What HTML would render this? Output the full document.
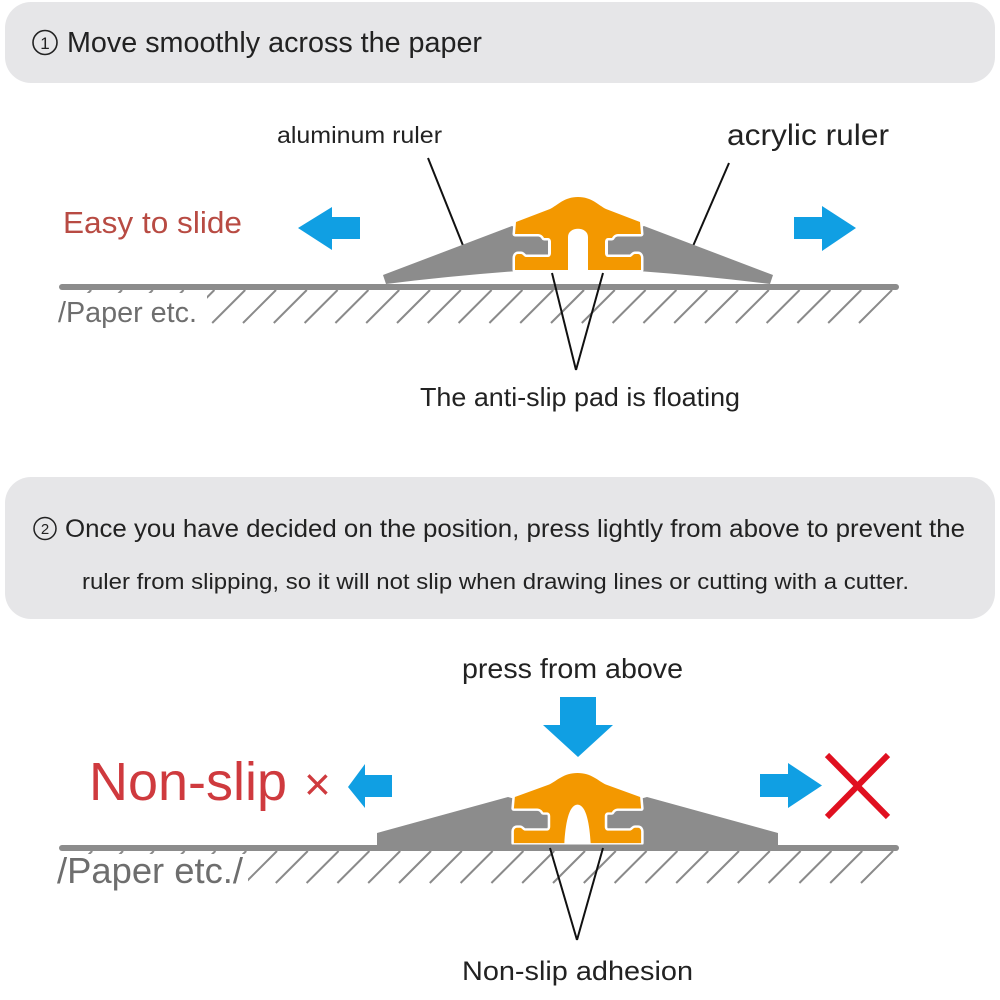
<!DOCTYPE html>
<html>
<head>
<meta charset="utf-8">
<style>
  html,body{margin:0;padding:0;background:#fff;}
  svg{display:block;}
  text{font-family:"Liberation Sans","DejaVu Sans",sans-serif;}
</style>
</head>
<body>
<svg width="1000" height="1000" viewBox="0 0 1000 1000" xmlns="http://www.w3.org/2000/svg">
  <defs>
    <clipPath id="hc"><rect x="60" y="0" width="840" height="1000"/></clipPath>
    <path id="pad" d="M0,0 C14,0 20,8 28,12 L62,25 L63,37 L40,37 C37,37 35,39 34,41 L30,41 C28,41 27,43 27,45 L27,56 C27,58 28,60 30,60 L52,60 C54,60 55,57 57,57 L60,57 C62,57 63,59 63,61 L63,73 L10,73 L10,40 C10,29 -10,29 -10,40 L-10,73 L-63,73 L-63,61 C-63,59 -62,57 -60,57 L-57,57 C-55,57 -54,60 -52,60 L-30,60 C-28,60 -27,58 -27,56 L-27,45 C-27,43 -28,41 -30,41 L-34,41 C-35,39 -37,37 -40,37 L-63,37 L-62,25 L-28,12 C-20,8 -14,0 0,0 Z"/>
    <path id="pad2" d="M0,0 C14,0 20,8 28,12 L62,25 L63,37 L40,37 C37,37 35,39 34,41 L30,41 C28,41 27,43 27,45 L27,56 C27,58 28,60 30,60 L52,60 C54,60 55,57 57,57 L60,57 C62,57 63,59 63,61 L63,73 L13,73 C12,55 9,33 0,33 C-9,33 -12,55 -13,73 L-63,73 L-63,61 C-63,59 -62,57 -60,57 L-57,57 C-55,57 -54,60 -52,60 L-30,60 C-28,60 -27,58 -27,56 L-27,45 C-27,43 -28,41 -30,41 L-34,41 C-35,39 -37,37 -40,37 L-63,37 L-62,25 L-28,12 C-20,8 -14,0 0,0 Z"/>
  </defs>

  <!-- Header 1 -->
  <rect x="5" y="2" width="990" height="81" rx="26" ry="26" fill="#e6e6e8"/>
  <circle cx="45" cy="42.5" r="12" fill="none" stroke="#222" stroke-width="1.6"/>
  <text x="45" y="49" font-size="17" fill="#222" text-anchor="middle">1</text>
  <text x="67" y="52" font-size="28.5" fill="#222" textLength="415" lengthAdjust="spacingAndGlyphs">Move smoothly across the paper</text>

  <!-- Section 1 labels -->
  <text x="277" y="143" font-size="23" fill="#222" textLength="165" lengthAdjust="spacingAndGlyphs">aluminum ruler</text>
  <text x="727" y="145" font-size="30" fill="#222" textLength="162" lengthAdjust="spacingAndGlyphs">acrylic ruler</text>
  <line x1="428" y1="158" x2="466" y2="253" stroke="#111" stroke-width="2"/>
  <line x1="729" y1="163" x2="690" y2="253" stroke="#111" stroke-width="2"/>

  <text x="63" y="233" font-size="31" fill="#b84b43" textLength="179" lengthAdjust="spacingAndGlyphs">Easy to slide</text>

  <!-- arrows sec 1 -->
  <polygon points="298,228 332,207 332,217 360,217 360,239 332,239 332,250" fill="#109fe3"/>
  <polygon points="794,217 822,217 822,206 856,228 822,251 822,239 794,239" fill="#109fe3"/>

  <!-- hatches sec 1 -->
  <g clip-path="url(#hc)" stroke="#8a8a8a" stroke-width="2">
    <line x1="892" y1="290" x2="859" y2="323"/>
    <line x1="861.2" y1="290" x2="828.2" y2="323"/>
    <line x1="830.4" y1="290" x2="797.4" y2="323"/>
    <line x1="799.6" y1="290" x2="766.6" y2="323"/>
    <line x1="768.8" y1="290" x2="735.8" y2="323"/>
    <line x1="738" y1="290" x2="705" y2="323"/>
    <line x1="707.2" y1="290" x2="674.2" y2="323"/>
    <line x1="676.4" y1="290" x2="643.4" y2="323"/>
    <line x1="645.6" y1="290" x2="612.6" y2="323"/>
    <line x1="614.8" y1="290" x2="581.8" y2="323"/>
    <line x1="584" y1="290" x2="551" y2="323"/>
    <line x1="553.2" y1="290" x2="520.2" y2="323"/>
    <line x1="522.4" y1="290" x2="489.4" y2="323"/>
    <line x1="491.6" y1="290" x2="458.6" y2="323"/>
    <line x1="460.8" y1="290" x2="427.8" y2="323"/>
    <line x1="430" y1="290" x2="397" y2="323"/>
    <line x1="399.2" y1="290" x2="366.2" y2="323"/>
    <line x1="368.4" y1="290" x2="335.4" y2="323"/>
    <line x1="337.6" y1="290" x2="304.6" y2="323"/>
    <line x1="306.8" y1="290" x2="273.8" y2="323"/>
    <line x1="276" y1="290" x2="243" y2="323"/>
    <line x1="245.2" y1="290" x2="212.2" y2="323"/>
    <line x1="214.4" y1="290" x2="181.4" y2="323"/>
    <line x1="183.6" y1="290" x2="150.6" y2="323"/>
    <line x1="152.8" y1="290" x2="119.8" y2="323"/>
    <line x1="122" y1="290" x2="89" y2="323"/>
    <line x1="91.2" y1="290" x2="58.2" y2="323"/>
  </g>
  <rect x="55" y="293" width="152" height="38" fill="#fff"/>
  <text x="58" y="322" font-size="29" fill="#6e6e6e" textLength="139" lengthAdjust="spacingAndGlyphs">/Paper etc.</text>

  <!-- ground 1 -->
  <line x1="62" y1="287" x2="896" y2="287" stroke="#8c8c8c" stroke-width="6" stroke-linecap="round"/>

  <!-- rulers sec 1 -->
  <path d="M383,275 L512,226 L548,240 L548,258 L518,271 Q450,276 386,284 Z" fill="#8c8c8c"/>
  <path d="M773,275 L644,226 L608,240 L608,258 L638,271 Q706,276 770,284 Z" fill="#8c8c8c"/>
  <use href="#pad" transform="translate(578,197)" fill="#f39800" stroke="#fff" stroke-width="5" paint-order="stroke" stroke-linejoin="round"/>

  <line x1="552" y1="273" x2="576" y2="370" stroke="#111" stroke-width="2"/>
  <line x1="603" y1="273" x2="576" y2="370" stroke="#111" stroke-width="2"/>
  <text x="420" y="406" font-size="26" fill="#222" textLength="320" lengthAdjust="spacingAndGlyphs">The anti-slip pad is floating</text>

  <!-- Header 2 -->
  <rect x="5" y="477" width="990" height="142" rx="26" ry="26" fill="#e6e6e8"/>
  <circle cx="45" cy="528.5" r="11" fill="none" stroke="#222" stroke-width="1.5"/>
  <text x="45" y="534" font-size="15" fill="#222" text-anchor="middle">2</text>
  <text x="65" y="537" font-size="25" fill="#222" textLength="900" lengthAdjust="spacingAndGlyphs">Once you have decided on the position, press lightly from above to prevent the</text>
  <text x="82" y="589" font-size="22" fill="#222" textLength="827" lengthAdjust="spacingAndGlyphs">ruler from slipping, so it will not slip when drawing lines or cutting with a cutter.</text>

  <!-- Section 2 -->
  <text x="462" y="678" font-size="28" fill="#222" textLength="221" lengthAdjust="spacingAndGlyphs">press from above</text>
  <polygon points="560,697 596,697 596,725 613,725 578,757 543,725 560,725" fill="#109fe3"/>

  <text x="89" y="800" font-size="54" fill="#cf3a3e" textLength="198" lengthAdjust="spacingAndGlyphs">Non-slip</text>
  <text x="304" y="800" font-size="46" fill="#cf3a3e">×</text>

  <polygon points="348,787 365,764 365,775 392,775 392,797 365,797 365,808" fill="#109fe3"/>
  <polygon points="760,774 788,774 788,763 822,785.5 788,808 788,797 760,797" fill="#109fe3"/>
  <line x1="827" y1="755" x2="888" y2="817" stroke="#e01020" stroke-width="6"/>
  <line x1="888" y1="755" x2="827" y2="817" stroke="#e01020" stroke-width="6"/>

  <!-- hatches sec 2 -->
  <g clip-path="url(#hc)" stroke="#8a8a8a" stroke-width="2">
    <line x1="893" y1="851" x2="861" y2="883"/>
    <line x1="862.2" y1="851" x2="830.2" y2="883"/>
    <line x1="831.4" y1="851" x2="799.4" y2="883"/>
    <line x1="800.6" y1="851" x2="768.6" y2="883"/>
    <line x1="769.8" y1="851" x2="737.8" y2="883"/>
    <line x1="739" y1="851" x2="707" y2="883"/>
    <line x1="708.2" y1="851" x2="676.2" y2="883"/>
    <line x1="677.4" y1="851" x2="645.4" y2="883"/>
    <line x1="646.6" y1="851" x2="614.6" y2="883"/>
    <line x1="615.8" y1="851" x2="583.8" y2="883"/>
    <line x1="585" y1="851" x2="553" y2="883"/>
    <line x1="554.2" y1="851" x2="522.2" y2="883"/>
    <line x1="523.4" y1="851" x2="491.4" y2="883"/>
    <line x1="492.6" y1="851" x2="460.6" y2="883"/>
    <line x1="461.8" y1="851" x2="429.8" y2="883"/>
    <line x1="431" y1="851" x2="399" y2="883"/>
    <line x1="400.2" y1="851" x2="368.2" y2="883"/>
    <line x1="369.4" y1="851" x2="337.4" y2="883"/>
    <line x1="338.6" y1="851" x2="306.6" y2="883"/>
    <line x1="307.8" y1="851" x2="275.8" y2="883"/>
    <line x1="277" y1="851" x2="245" y2="883"/>
    <line x1="246.2" y1="851" x2="214.2" y2="883"/>
    <line x1="215.4" y1="851" x2="183.4" y2="883"/>
    <line x1="184.6" y1="851" x2="152.6" y2="883"/>
    <line x1="153.8" y1="851" x2="121.8" y2="883"/>
    <line x1="123" y1="851" x2="91" y2="883"/>
    <line x1="92.2" y1="851" x2="60.2" y2="883"/>
  </g>
  <rect x="54" y="854" width="194" height="42" fill="#fff"/>
  <text x="57" y="883" font-size="36" fill="#6e6e6e" textLength="186" lengthAdjust="spacingAndGlyphs">/Paper etc./</text>

  <!-- ground 2 -->
  <line x1="62" y1="848" x2="896" y2="848" stroke="#8c8c8c" stroke-width="6" stroke-linecap="round"/>

  <!-- rulers sec 2 -->
  <path d="M377,833 L508,797 L548,808 L548,830 L520,845 L377,845 Z" fill="#8c8c8c"/>
  <path d="M778,833 L647,797 L607,808 L607,830 L635,845 L778,845 Z" fill="#8c8c8c"/>
  <use href="#pad2" transform="translate(577.5,773) scale(1.01,0.96)" fill="#f39800" stroke="#fff" stroke-width="5" paint-order="stroke" stroke-linejoin="round"/>
  <line x1="377" y1="845.5" x2="778" y2="845.5" stroke="#8c8c8c" stroke-width="2"/>

  <line x1="550" y1="848" x2="577" y2="940" stroke="#111" stroke-width="2"/>
  <line x1="603" y1="848" x2="577" y2="940" stroke="#111" stroke-width="2"/>
  <text x="462" y="980" font-size="27" fill="#222" textLength="231" lengthAdjust="spacingAndGlyphs">Non-slip adhesion</text>
</svg>
</body>
</html>
